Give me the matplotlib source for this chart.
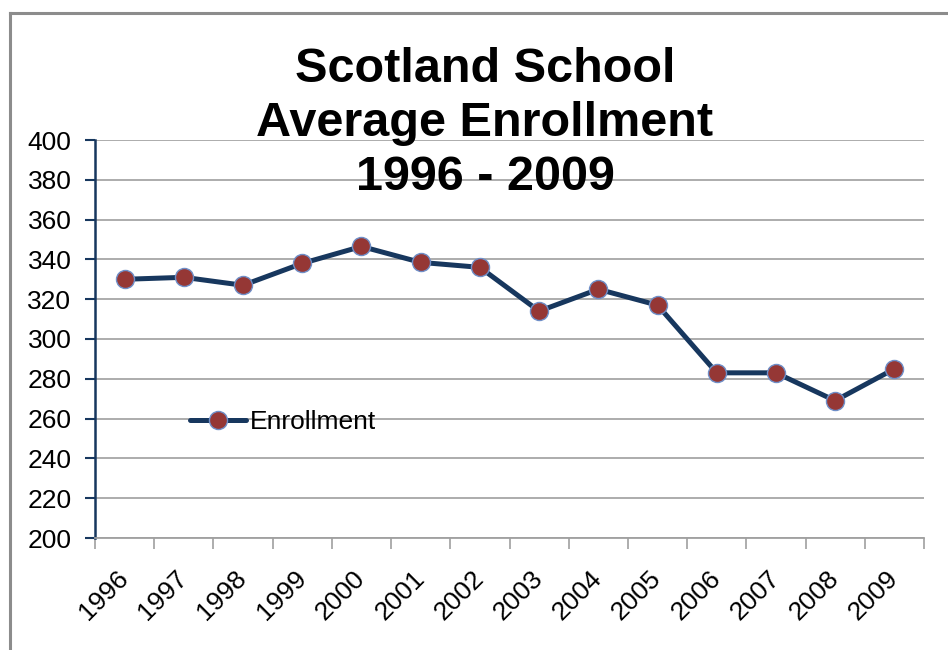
import matplotlib.pyplot as plt
from matplotlib.lines import Line2D

# data
years = ["1996", "1997", "1998", "1999", "2000", "2001", "2002",
         "2003", "2004", "2005", "2006", "2007", "2008", "2009"]
enrollment = [330, 331, 327, 338, 346.5, 338.5, 336,
              314, 325, 317, 283, 283, 269, 285]
y_ticks = list(range(200, 401, 20))

plt.rcParams["font.family"] = ["Liberation Sans", "DejaVu Sans"]

fig = plt.figure(figsize=(9.48, 6.5), dpi=100)
ax = fig.add_axes([95 / 948, 1 - 538 / 650, (924 - 95) / 948, (538 - 140) / 650])

x = list(range(len(years)))
ax.plot(x, enrollment, color="#17375E", lw=3.6, marker="o", ms=13,
        mfc="#953735", mec="#6F8FC8", mew=1.0, label="Enrollment",
        solid_capstyle="round", zorder=3)

ax.set_ylim(200, 400)
ax.set_yticks(y_ticks)
ax.set_xlim(-0.5, len(years) - 0.5)
ax.set_xticks(x)
ax.set_xticklabels(years, rotation=45, ha="right", va="center",
                   rotation_mode="anchor")
ax.set_xticks([i - 0.5 for i in range(len(years) + 1)], minor=True)

ax.tick_params(axis="x", which="major", length=0, pad=26, labelsize=19)
ax.tick_params(axis="x", which="minor", length=8, width=1.2, color="#A0A0A0")
ax.tick_params(axis="y", length=7, width=1.5, color="#17375E", labelsize=19, pad=10)

ax.grid(axis="y", color="#A6A6A6", lw=1.3)
ax.set_axisbelow(True)
for s in ("top", "right"):
    ax.spines[s].set_visible(False)
ax.spines["left"].set_color("#17375E")
ax.spines["left"].set_linewidth(1.8)
ax.spines["bottom"].set_color("#A0A0A0")
ax.spines["bottom"].set_linewidth(1.3)

ax.legend(loc="center left", bbox_to_anchor=(177 / 948, 1 - 422 / 650),
          bbox_transform=fig.transFigure, frameon=False, fontsize=19,
          handlelength=2.1, handletextpad=0.15, borderpad=0)

# three-line title
title_lines = ["Scotland School", "Average Enrollment", "1996 - 2009"]
baselines = [82, 136, 190]
for t, b in zip(title_lines, baselines):
    fig.text(485 / 948, 1 - b / 650, t, ha="center", va="baseline",
             fontsize=35, fontweight="bold", color="black")

# chart-area border (top and left edges visible)
fig.add_artist(Line2D([10 / 948, 10 / 948], [0, 1 - 13 / 650],
                      transform=fig.transFigure, color="#8C8C8C", lw=2.2))
fig.add_artist(Line2D([10 / 948, 1], [1 - 13 / 650, 1 - 13 / 650],
                      transform=fig.transFigure, color="#8C8C8C", lw=2.2))

fig.savefig("out.png", dpi=100, facecolor="white")
